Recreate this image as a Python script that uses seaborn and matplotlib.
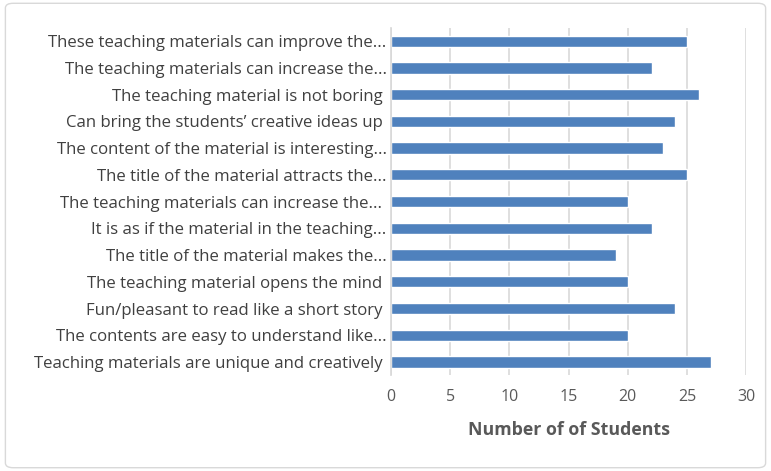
import matplotlib
matplotlib.use("Agg")
import matplotlib.pyplot as plt
from matplotlib.patches import FancyBboxPatch
import seaborn as sns
import pandas as pd

categories = [
    "These teaching materials can improve the...",
    "The teaching materials can increase the...",
    "The teaching material is not boring ",
    "Can bring the students\u2019 creative ideas up ",
    "The content of the material is interesting...",
    "The title of the material attracts the...",
    "The teaching materials can increase the... ",
    "It is as if the material in the teaching...",
    "The title of the material makes the...",
    "The teaching material opens the mind ",
    "Fun/pleasant to read like a short story ",
    "The contents are easy to understand like...",
    "Teaching materials are unique and creatively ",
]
values = [25, 22, 26, 24, 23, 25, 20, 22, 19, 20, 24, 20, 27]
x_ticks = [0, 5, 10, 15, 20, 25, 30]
x_label = "Number of of Students"

df = pd.DataFrame({"cat": categories, "val": values})

sns.set_theme(style="white")
plt.rcParams["font.family"] = ["Open Sans", "DejaVu Sans"]

fig = plt.figure(figsize=(7.71, 4.71), dpi=100)
ax = fig.add_axes([0.507, 0.203, 0.461, 0.738])

sns.barplot(data=df, x="val", y="cat", orient="h", color="#4f81bd",
            saturation=1, width=0.42, ax=ax, order=categories)

ax.set_xlim(0, 30)
ax.set_xticks(x_ticks)
ax.set_xticklabels([str(t) for t in x_ticks], color="#595959", fontsize=11.5)
ax.tick_params(axis="y", labelsize=12.1, labelcolor="#404040", length=0, pad=3)
ax.tick_params(axis="x", length=0, pad=10)
ax.xaxis.grid(True, color="#d9d9d9", linewidth=1.2)
ax.set_axisbelow(True)
for s in ["top", "right", "bottom"]:
    ax.spines[s].set_visible(False)
ax.spines["left"].set_color("#d9d9d9")
ax.set_ylabel("")
ax.set_xlabel(x_label, fontsize=12.8, fontweight="bold", color="#595959", labelpad=11)

border = FancyBboxPatch((0.007, 0.007), 0.986, 0.986, boxstyle="round,pad=0,rounding_size=0.01",
                        transform=fig.transFigure, fill=False, edgecolor="#d9d9d9", linewidth=1)
fig.patches.append(border)

fig.savefig("out.png", dpi=100)
